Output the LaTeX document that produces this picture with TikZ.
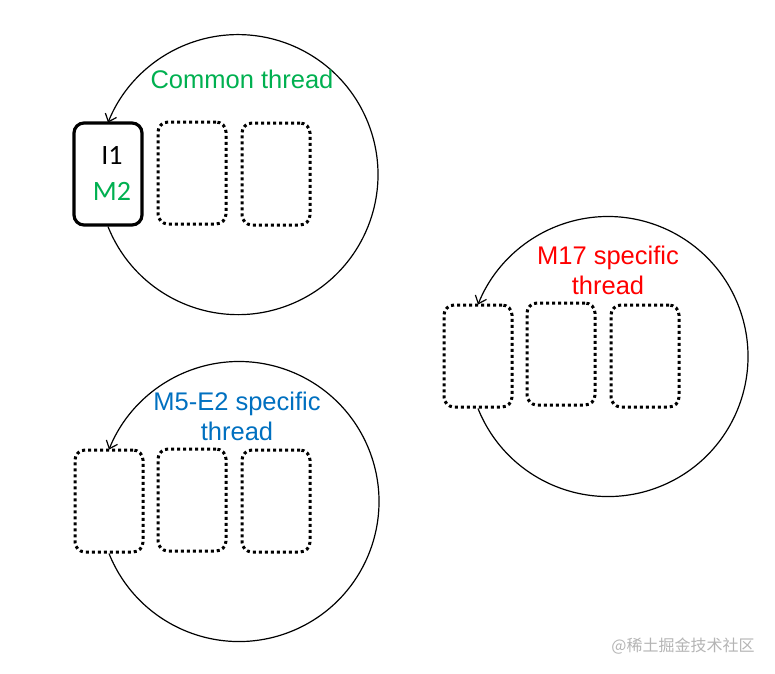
\documentclass[tikz,border=0pt]{standalone}
\usepackage{fontspec}
\setmainfont{Liberation Sans}
\newfontfamily\calfont{Carlito}
\newfontfamily\cjkfont{Noto Sans CJK SC}
\usetikzlibrary{arrows.meta}
\definecolor{offgreen}{HTML}{00B050}
\definecolor{offred}{HTML}{FF0000}
\definecolor{offblue}{HTML}{0070C0}
\definecolor{wmgray}{HTML}{B4B4B4}
\tikzset{
  slot/.style={draw, rectangle, rounded corners=10pt, minimum width=68pt, minimum height=102pt, inner sep=0pt},
  dotslot/.style={slot, line width=3pt, dash pattern=on 3pt off 3pt},
  solidslot/.style={slot, line width=3.2pt},
  loop/.style={line width=1.2pt, -{Straight Barb[length=7pt,width=12pt,line width=1.2pt]}},
  label/.style={font=\fontsize{25.5}{30}\selectfont, align=center, anchor=base},
  inlabel/.style={font=\calfont\fontsize{28}{30}\selectfont, anchor=base},
}
\begin{document}
\begin{tikzpicture}[x=1pt,y=-1pt]
\useasboundingbox (0,0) rectangle (775,673);
% ---- Common thread ----
\node[solidslot] (c1) at (108,174) {};
\node[dotslot] (c2) at (192,173) {};
\node[dotslot] (c3) at (276,174) {};
\draw[loop] (c1.south) arc[start angle=-158.2, end angle=158.2, radius=140pt];
\node[label, text=offgreen] (ct) at (242,88) {Common thread};
\node[inlabel] (i1) at (112,164) {I1};
\node[inlabel, text=offgreen] (m2) at (112,200) {M2};
% ---- M17 specific thread ----
\node[dotslot] (r1) at (478,356) {};
\node[dotslot] (r2) at (561,354) {};
\node[dotslot] (r3) at (645,356) {};
\draw[loop] (r1.south) arc[start angle=-158.2, end angle=158.2, radius=140pt];
\node[label, text=offred] (rt1) at (608,264) {M17 specific};
\node[label, text=offred] (rt2) at (608,294) {thread};
% ---- M5-E2 specific thread ----
\node[dotslot] (b1) at (109,501) {};
\node[dotslot] (b2) at (192,500) {};
\node[dotslot] (b3) at (276,501) {};
\draw[loop] (b1.south) arc[start angle=-158.2, end angle=158.2, radius=140pt];
\node[label, text=offblue] (bt1) at (237,410) {M5-E2 specific};
\node[label, text=offblue] (bt2) at (237,440) {thread};
% ---- watermark ----
\node[font=\cjkfont\fontsize{16}{18}\selectfont, text=wmgray, anchor=base] (wm) at (683,651) {@稀土掘金技术社区};
\end{tikzpicture}
\end{document}
